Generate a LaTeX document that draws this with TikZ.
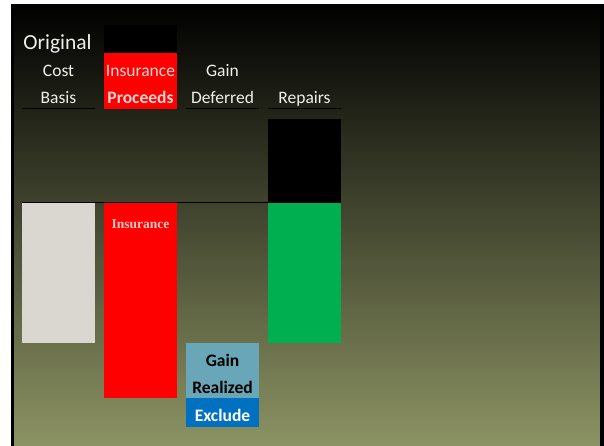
\documentclass[tikz,border=0pt]{standalone}
\usepackage{fontspec}
\setmainfont{Carlito}
\newfontfamily\labelserif{Liberation Serif}

\definecolor{panelbottom}{RGB}{140,147,99}
\definecolor{basisgray}{RGB}{218,215,208}
\definecolor{gainblue}{RGB}{105,166,184}
\definecolor{exclblue}{RGB}{0,112,192}
\definecolor{repgreen}{RGB}{0,176,80}
\definecolor{headtext}{RGB}{240,240,236}
\definecolor{pinktext}{RGB}{244,214,212}
\definecolor{labelpink}{RGB}{245,200,198}

\begin{document}
\begin{tikzpicture}[x=1pt,y=-1pt,
  bar/.style={draw=none, inner sep=0pt, outer sep=0pt, minimum width=73pt, anchor=north west},
  head/.style={inner sep=0pt, anchor=base, text=headtext, font=\fontsize{17.5}{20}\selectfont},
  boldlabel/.style={inner sep=0pt, anchor=base, font=\fontsize{17.5}{20}\selectfont\bfseries},
  rule/.style={draw=black, line width=1pt}]

% page and slide panel
\useasboundingbox (0,0) rectangle (604,446);
\fill[white] (0,0) rectangle (604,446);
\shade[top color=black, bottom color=panelbottom] (11,5) rectangle (604,446);
\fill[black] (11,5) rectangle (13.5,446);
\fill[black] (600,5) rectangle (604,446);

% column bars
\node[bar, fill=black,     minimum height=28pt]  (insblack) at (104,25)  {};
\node[bar, fill=red,       minimum height=56pt]  (inshead)  at (104,53)  {};
\node[bar, fill=black,     minimum height=84pt]  (repblack) at (268,119) {};
\node[bar, fill=basisgray, minimum height=140pt] (basis)    at (22,203)  {};
\node[bar, fill=red,       minimum height=195pt] (insbar)   at (104,203) {};
\node[bar, fill=repgreen,  minimum height=140pt] (repbar)   at (268,203) {};
\node[bar, fill=gainblue,  minimum height=55pt]  (gainbar)  at (186,343) {};
\node[bar, fill=exclblue,  minimum height=29pt]  (exclbar)  at (186,398) {};

% base line across the columns
\draw[rule] ([yshift=0.5pt]basis.north west) -- ([yshift=0.5pt]repbar.north west);

% underlines below the headings
\coordinate (u1a) at (22,109);  \coordinate (u1b) at (95,109);
\coordinate (u3a) at (186,109); \coordinate (u3b) at (259,109);
\coordinate (u4a) at (268,109); \coordinate (u4b) at (341,109);
\draw[rule] (u1a) -- (u1b);
\draw[rule] (u3a) -- (u3b);
\draw[rule] (u4a) -- (u4b);

% headings
\node[head, font=\fontsize{21.5}{24}\selectfont] (orig) at (57.5,50) {Original};
\node[head] (cost)  at (58.5,77)  {Cost};
\node[head] (basisT) at (58.5,104) {Basis};
\node[head, text=pinktext] (insT) at (140.5,77) {Insurance};
\node[head, text=pinktext, font=\fontsize{17.5}{20}\selectfont\bfseries] (procT) at (140.5,104) {Proceeds};
\node[head] (gainT) at (222.5,77)  {Gain};
\node[head] (defT)  at (222.5,104) {Deferred};
\node[head] (repT)  at (304.5,104) {Repairs};

% labels inside the bars
\node[inner sep=0pt, anchor=base, text=labelpink, font=\labelserif\bfseries\fontsize{13.5}{15}\selectfont] (insL) at (140.5,228) {Insurance};
\node[boldlabel, text=black] (gainL) at (222.5,366) {Gain};
\node[boldlabel, text=black] (realL) at (222.5,393) {Realized};
\node[boldlabel, text=white] (exclL) at (222.5,421.5) {Exclude};

\end{tikzpicture}
\end{document}
